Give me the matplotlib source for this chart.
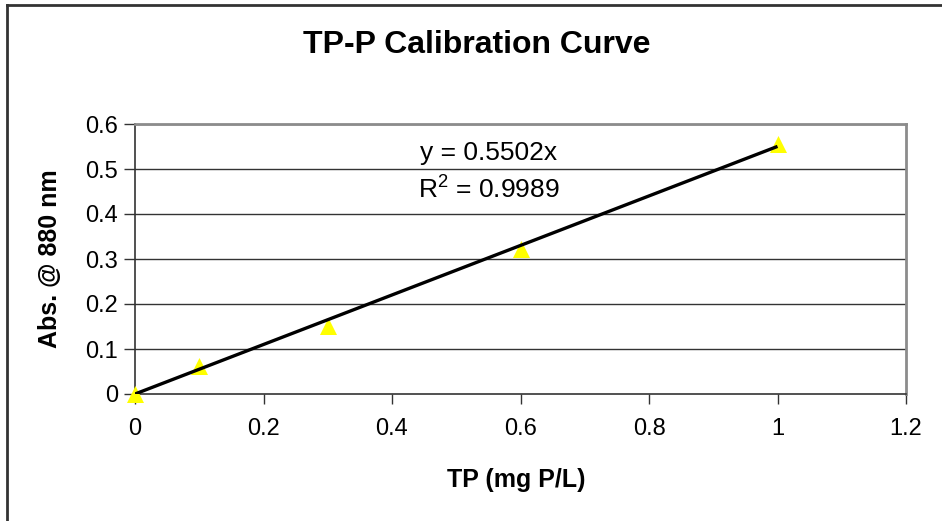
import matplotlib
matplotlib.use("Agg")
import matplotlib.pyplot as plt
from matplotlib.lines import Line2D

plt.rcParams['font.family'] = ['Liberation Sans', 'DejaVu Sans']

# calibration standards
conc = [0, 0.1, 0.3, 0.6, 1.0]
absorb = [0.0, 0.062, 0.152, 0.322, 0.556]

# linear fit through origin (from the spreadsheet trendline)
slope = 0.5502
r_squared = 0.9989

xticks = [0, 0.2, 0.4, 0.6, 0.8, 1.0, 1.2]
xtick_labels = ['0', '0.2', '0.4', '0.6', '0.8', '1', '1.2']
yticks = [0, 0.1, 0.2, 0.3, 0.4, 0.5, 0.6]
ytick_labels = ['0', '0.1', '0.2', '0.3', '0.4', '0.5', '0.6']

W, H = 942, 521
fig = plt.figure(figsize=(W / 100, H / 100), dpi=100)
ax = fig.add_axes([135 / W, 1 - 394 / H, (906 - 135) / W, (394 - 124) / H])

ax.set_xlim(0, 1.2)
ax.set_ylim(0, 0.6)
ax.set_xticks(xticks)
ax.set_xticklabels(xtick_labels)
ax.set_yticks(yticks)
ax.set_yticklabels(ytick_labels)

# horizontal gridlines carried across the plot area
for yv in yticks[1:]:
    ax.axhline(yv, color='#333333', lw=1.0, zorder=1)

ax.tick_params(axis='both', labelsize=17, direction='out', color='#333333', width=1.0)
ax.tick_params(axis='x', length=7, pad=10)
ax.tick_params(axis='y', length=8, pad=4)

for side in ['left', 'bottom']:
    ax.spines[side].set_color('#333333')
    ax.spines[side].set_linewidth(1.2)
for side in ['top', 'right']:
    ax.spines[side].set_color('#8c8c8c')
    ax.spines[side].set_linewidth(2.0)

ax.scatter(conc, absorb, marker='^', s=150, color='#ffff00', zorder=3, linewidths=0,
           clip_on=False)
fit_x = [0, max(conc)]
fit_y = [slope * v for v in fit_x]
ax.plot(fit_x, fit_y, color='black', lw=2.4, zorder=4, solid_capstyle='butt')

ax.text(0.551, 0.536, 'y = %.4fx' % slope, fontsize=19, ha='center', va='center')
ax.text(0.551, 0.453, '$\\mathregular{R^2}$ = %.4f' % r_squared, fontsize=19,
        ha='center', va='center')

fig.text(477 / W, 1 - 45 / H, 'TP-P Calibration Curve', fontsize=23, fontweight='bold',
         ha='center', va='center')
fig.text(516 / W, 1 - 480 / H, 'TP (mg P/L)', fontsize=18, fontweight='bold',
         ha='center', va='center')
fig.text(50 / W, 1 - 259 / H, 'Abs. @ 880 nm', fontsize=18, fontweight='bold',
         ha='center', va='center', rotation=90)

# outer chart frame (top and left edges)
fig.add_artist(Line2D([7 / W, 1], [1 - 5 / H, 1 - 5 / H], color='#333333', lw=2.0,
                      transform=fig.transFigure))
fig.add_artist(Line2D([7 / W, 7 / W], [0, 1 - 5 / H], color='#333333', lw=2.0,
                      transform=fig.transFigure))

fig.savefig('out.png', dpi=100)
